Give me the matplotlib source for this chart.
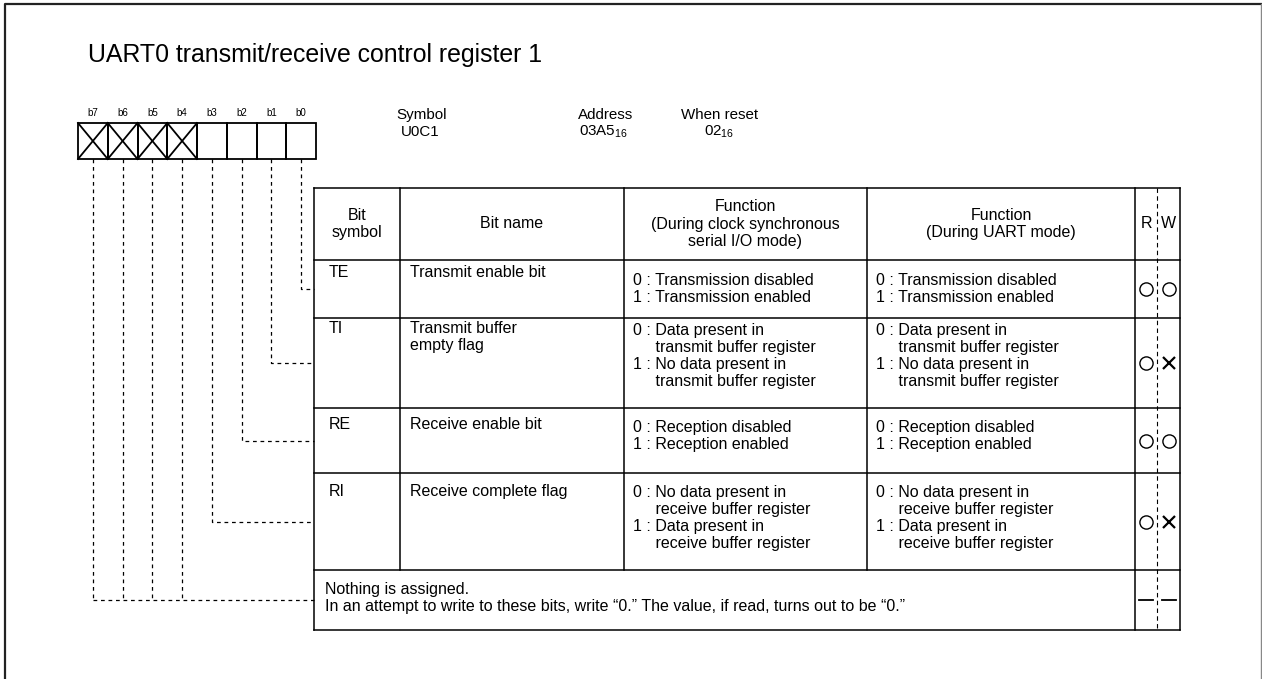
import matplotlib
matplotlib.use("Agg")
import matplotlib.pyplot as plt

plt.rcParams["font.family"] = ["Liberation Sans", "DejaVu Sans"]

# Register data
title = "UART0 transmit/receive control register 1"
bit_labels = ["b7", "b6", "b5", "b4", "b3", "b2", "b1", "b0"]
unused_bits = [True, True, True, True, False, False, False, False]
symbol = "U0C1"
address = "03A5"
reset_value = "02"

bit_symbols = ["TE", "TI", "RE", "RI"]
bit_names = ["Transmit enable bit", "Transmit buffer\nempty flag",
             "Receive enable bit", "Receive complete flag"]
func_sync = [
    "0 : Transmission disabled\n1 : Transmission enabled",
    "0 : Data present in\n     transmit buffer register\n1 : No data present in\n     transmit buffer register",
    "0 : Reception disabled\n1 : Reception enabled",
    "0 : No data present in\n     receive buffer register\n1 : Data present in\n     receive buffer register",
]
func_uart = [
    "0 : Transmission disabled\n1 : Transmission enabled",
    "0 : Data present in\n     transmit buffer register\n1 : No data present in\n     transmit buffer register",
    "0 : Reception disabled\n1 : Reception enabled",
    "0 : No data present in\n     receive buffer register\n1 : Data present in\n     receive buffer register",
]
read_marks = ["o", "o", "o", "o"]
write_marks = ["o", "x", "o", "x"]
nothing_text = ("Nothing is assigned.\nIn an attempt to write to these bits, write \u201c0.\u201d "
                "The value, if read, turns out to be \u201c0.\u201d")

# Layout (pixels)
W, H = 1262, 679
reg_x0, reg_x1 = 78, 316
reg_y0, reg_y1 = 123, 159
col_x = [314, 400, 624, 867, 1135, 1180]
rw_split = 1157
row_y = [188, 260, 318, 408, 473, 570, 630]
func_off = [13, 5, 12, 12]   # first-line offset of function text below row top
name_off = [5, 3, 9, 11]

fs_body = 11.5
fs_small = 7
ls = 1.17

fig = plt.figure(figsize=(W / 100, H / 100), dpi=100)
ax = fig.add_axes([0, 0, 1, 1])
ax.set_xlim(0, W)
ax.set_ylim(H, 0)
ax.axis("off")

lw = 1.1
# frame
ax.plot([5, 5, W], [H, 4, 4], color="#222222", lw=1.6)
ax.plot([W - 1.5, W - 1.5], [4, H], color="#888888", lw=1.0)

ax.text(88, 55, title, fontsize=17.9, va="center", ha="left")

# register cells
cell_w = (reg_x1 - reg_x0) / len(bit_labels)
for i, lab in enumerate(bit_labels):
    x0 = reg_x0 + i * cell_w
    ax.add_patch(plt.Rectangle((x0, reg_y0), cell_w, reg_y1 - reg_y0,
                               fill=False, lw=1.3, ec="black"))
    if unused_bits[i]:
        ax.plot([x0, x0 + cell_w], [reg_y0, reg_y1], color="black", lw=1.3)
        ax.plot([x0, x0 + cell_w], [reg_y1, reg_y0], color="black", lw=1.3)
    ax.text(x0 + cell_w / 2, 113, lab, fontsize=fs_small, ha="center", va="center")

# symbol / address / reset
fs_hdr = fs_body * 0.95
ax.text(422, 115, "Symbol", fontsize=fs_hdr, ha="center", va="center")
ax.text(420, 132, symbol, fontsize=fs_hdr, ha="center", va="center")
ax.text(606, 115, "Address", fontsize=fs_hdr, ha="center", va="center")
ax.text(603, 132, "$\\mathregular{" + address + "_{16}}$", fontsize=fs_hdr,
        ha="center", va="center")
ax.text(720, 115, "When reset", fontsize=fs_hdr, ha="center", va="center")
ax.text(719, 132, "$\\mathregular{" + reset_value + "_{16}}$", fontsize=fs_hdr,
        ha="center", va="center")

# table grid
x_l, x_r = col_x[0], col_x[-1]
for y in row_y:
    ax.plot([x_l, x_r], [y, y], color="black", lw=lw)
for x in col_x:
    if x in (col_x[0], col_x[4], col_x[5]):
        ax.plot([x, x], [row_y[0], row_y[-1]], color="black", lw=lw)
    else:
        ax.plot([x, x], [row_y[0], row_y[-2]], color="black", lw=lw)
ax.plot([rw_split, rw_split], [row_y[0], row_y[-1]], color="black", lw=0.8,
        ls=(0, (4, 3)))

# header
hy = (row_y[0] + row_y[1]) / 2
ax.text((col_x[0] + col_x[1]) / 2, hy, "Bit\nsymbol", fontsize=fs_body, ha="center",
        va="center", linespacing=ls)
ax.text((col_x[1] + col_x[2]) / 2, hy, "Bit name", fontsize=fs_body, ha="center", va="center")
ax.text((col_x[2] + col_x[3]) / 2, hy, "Function\n(During clock synchronous\nserial I/O mode)",
        fontsize=fs_body, ha="center", va="center", linespacing=ls)
ax.text((col_x[3] + col_x[4]) / 2, hy, "Function\n(During UART mode)",
        fontsize=fs_body, ha="center", va="center", linespacing=ls)
ax.text((col_x[4] + rw_split) / 2, hy, "R", fontsize=fs_body, ha="center", va="center")
ax.text((rw_split + col_x[5]) / 2, hy, "W", fontsize=fs_body, ha="center", va="center")

# rows
for i in range(len(bit_symbols)):
    top = row_y[i + 1]
    bot = row_y[i + 2]
    mid = (top + bot) / 2
    ax.text(col_x[0] + 15, top + name_off[i], bit_symbols[i], fontsize=fs_body, va="top")
    ax.text(col_x[1] + 10, top + name_off[i], bit_names[i], fontsize=fs_body, va="top",
            linespacing=ls)
    ax.text(col_x[2] + 9, top + func_off[i], func_sync[i], fontsize=fs_body, va="top",
            linespacing=ls)
    ax.text(col_x[3] + 9, top + func_off[i], func_uart[i], fontsize=fs_body, va="top",
            linespacing=ls)
    for xc, m in [((col_x[4] + rw_split) / 2, read_marks[i]), ((rw_split + col_x[5]) / 2, write_marks[i])]:
        if m == "o":
            ax.plot(xc, mid, marker="o", ms=9.5, mfc="none", mec="black", mew=1.0)
        else:
            ax.plot(xc, mid, marker="x", ms=9, mec="black", mew=1.6)

# nothing row
n_top, n_bot = row_y[-2], row_y[-1]
n_mid = (n_top + n_bot) / 2
ax.text(col_x[0] + 11, n_mid - 2, nothing_text, fontsize=fs_body, va="center", linespacing=ls)
for xc in [(col_x[4] + rw_split) / 2, (rw_split + col_x[5]) / 2]:
    ax.plot([xc - 7, xc + 7], [n_mid, n_mid], color="black", lw=1.3)

# dashed leader lines
dash = dict(color="black", lw=0.9, ls=(0, (3, 3)))
row_mids = [(row_y[i] + row_y[i + 1]) / 2 for i in range(1, len(row_y) - 1)]
for sym_row in range(4):
    bit_i = 7 - sym_row  # b0 -> TE, b1 -> TI ...
    xc = reg_x0 + (bit_i + 0.5) * cell_w
    y = row_mids[sym_row]
    ax.plot([xc, xc, col_x[0]], [reg_y1, y, y], **dash)
for bit_i in range(4):
    xc = reg_x0 + (bit_i + 0.5) * cell_w
    ax.plot([xc, xc], [reg_y1, n_mid], **dash)
ax.plot([reg_x0 + 0.5 * cell_w, col_x[0]], [n_mid, n_mid], **dash)

fig.savefig("out.png", dpi=100)
